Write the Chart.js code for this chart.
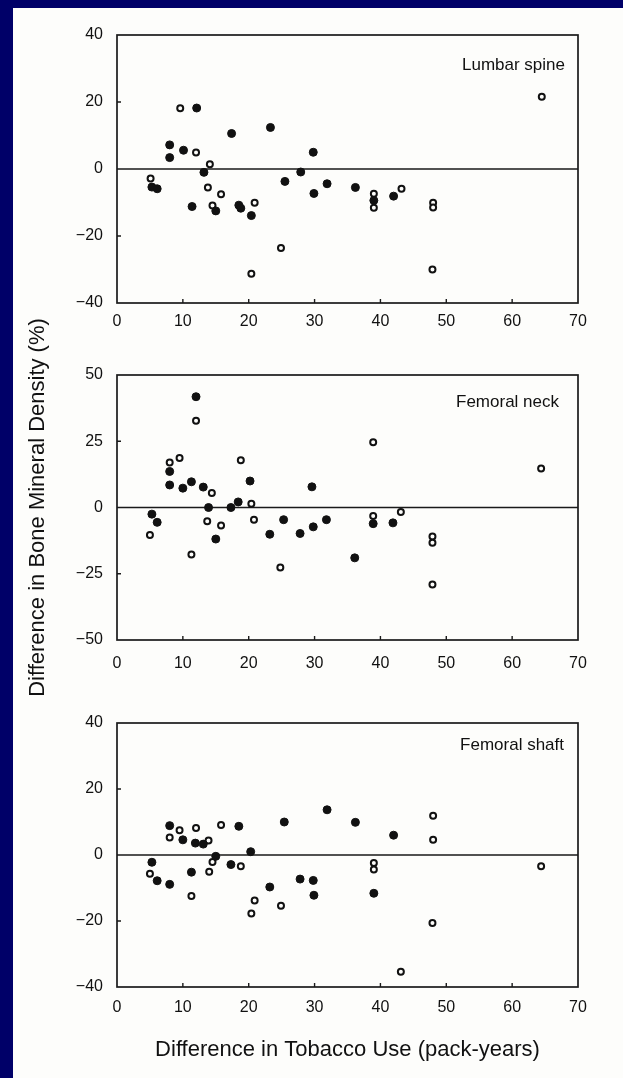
<!DOCTYPE html>
<html lang="en">
<head>
<meta charset="UTF-8">
<title>Bone Mineral Density vs Tobacco Use</title>
<script src="https://cdn.jsdelivr.net/npm/chart.js@4.4.0/dist/chart.umd.min.js"></script>
<style>
  html, body { margin: 0; padding: 0; background: #000068; }
  #sheet { position: absolute; left: 13px; top: 8px; width: 610px; height: 1070px; background: #fdfdfb; }
  canvas { position: absolute; left: 0; }
</style>
</head>
<body>
<div id="sheet"></div>
<canvas id="lumbar" width="623" height="332" style="top:8px"></canvas>
<canvas id="neck" width="623" height="440" style="top:290px"></canvas>
<canvas id="shaft" width="623" height="398" style="top:680px"></canvas>

<script>
// x = difference in pack-years, y = difference in BMD (%)
const xTickValues = [0, 10, 20, 30, 40, 50, 60, 70];
const yTicksLumbar = [-40, -20, 0, 20, 40];
const yTicksNeck = [-50, -25, 0, 25, 50];
const yTicksShaft = [-40, -20, 0, 20, 40];

const lumbarFilledX = [5.3, 6.1, 8.0, 8.0, 10.1, 11.4, 12.1, 13.2, 15.0, 17.4, 18.5, 18.8, 20.4, 23.3, 25.5, 27.9, 29.8, 29.9, 31.9, 36.2, 39.0, 42.0];
const lumbarFilledY = [-5.4, -5.9, 7.2, 3.4, 5.6, -11.2, 18.2, -1.0, -12.5, 10.6, -10.8, -11.7, -13.9, 12.4, -3.7, -0.9, 5.0, -7.3, -4.4, -5.5, -9.4, -8.1];
const lumbarOpenX = [5.1, 9.6, 12.0, 13.8, 14.1, 14.5, 15.8, 20.4, 20.9, 24.9, 39.0, 39.0, 43.2, 47.9, 48.0, 48.0, 64.5];
const lumbarOpenY = [-2.8, 18.1, 4.9, -5.5, 1.4, -10.9, -7.5, -31.3, -10.1, -23.6, -7.4, -11.6, -5.9, -30.0, -10.1, -11.5, 21.6];

const neckFilledX = [5.3, 6.1, 8.0, 8.0, 10.0, 11.3, 12.0, 13.1, 13.9, 15.0, 17.3, 18.4, 20.2, 23.2, 25.3, 27.8, 29.6, 29.8, 31.8, 36.1, 38.9, 41.9];
const neckFilledY = [-2.5, -5.6, 13.6, 8.5, 7.3, 9.7, 41.8, 7.7, 0.0, -11.9, 0.0, 2.1, 10.0, -10.1, -4.6, -9.8, 7.8, -7.3, -4.6, -19.0, -6.1, -5.8];
const neckOpenX = [5.0, 8.0, 9.5, 11.3, 12.0, 13.7, 14.4, 15.8, 18.8, 20.4, 20.8, 24.8, 38.9, 38.9, 43.1, 47.9, 47.9, 47.9, 64.4];
const neckOpenY = [-10.4, 17.0, 18.7, -17.7, 32.7, -5.2, 5.5, -6.8, 17.8, 1.4, -4.6, -22.6, 24.6, -3.2, -1.7, -10.9, -13.3, -29.1, 14.7];

const shaftFilledX = [5.3, 6.1, 8.0, 8.0, 10.0, 11.3, 11.9, 13.1, 15.0, 17.3, 18.5, 20.3, 23.2, 25.4, 27.8, 29.8, 29.9, 31.9, 36.2, 39.0, 42.0];
const shaftFilledY = [-2.2, -7.8, 8.9, -8.9, 4.6, -5.2, 3.6, 3.3, -0.4, -2.9, 8.7, 1.0, -9.7, 10.0, -7.3, -7.7, -12.2, 13.7, 9.9, -11.6, 6.0];
const shaftOpenX = [5.0, 8.0, 9.5, 11.3, 12.0, 13.9, 14.0, 14.5, 15.8, 18.8, 20.4, 20.9, 24.9, 39.0, 39.0, 43.1, 47.9, 48.0, 48.0, 64.4];
const shaftOpenY = [-5.7, 5.3, 7.5, -12.4, 8.2, 4.4, -5.1, -2.1, 9.1, -3.4, -17.7, -13.8, -15.4, -2.4, -4.4, -35.4, -20.6, 11.9, 4.6, -3.4];

const FONT = '"Liberation Sans", Arial, Helvetica, sans-serif';
const INK = '#111';
Chart.defaults.font.family = FONT;
Chart.defaults.color = INK;

function pts(xs, ys) {
  return xs.map((x, i) => ({ x: x, y: ys[i] }));
}

function minus(v) {
  return v < 0 ? '\u2212' + Math.abs(v) : String(v);
}

// frame, zero line, inward ticks and the panel name
const framePlugin = {
  id: 'frame',
  beforeDatasetsDraw(chart, args, opts) {
    const { ctx, chartArea: a, scales: { x, y } } = chart;
    ctx.save();
    ctx.strokeStyle = '#1a1a1a';
    ctx.lineWidth = 1.7;
    ctx.strokeRect(a.left, a.top, a.right - a.left, a.bottom - a.top);
    ctx.lineWidth = 1.4;
    const y0 = y.getPixelForValue(0);
    ctx.beginPath();
    ctx.moveTo(a.left, y0);
    ctx.lineTo(a.right, y0);
    x.ticks.forEach(t => {
      if (t.value > x.min && t.value < x.max) {
        const px = x.getPixelForValue(t.value);
        ctx.moveTo(px, a.bottom);
        ctx.lineTo(px, a.bottom - 4);
      }
    });
    y.ticks.forEach(t => {
      if (t.value > y.min && t.value < y.max && t.value !== 0) {
        const py = y.getPixelForValue(t.value);
        ctx.moveTo(a.left, py);
        ctx.lineTo(a.left + 4, py);
      }
    });
    ctx.stroke();
    ctx.restore();
  },
  afterDraw(chart, args, opts) {
    const { ctx, chartArea: a } = chart;
    ctx.save();
    ctx.font = '17px ' + FONT;
    ctx.fillStyle = INK;
    ctx.textAlign = 'right';
    ctx.textBaseline = 'middle';
    ctx.fillText(opts.label, a.right - opts.dx, a.top + opts.dy);
    ctx.restore();
  }
};

function makePanel(id, p) {
  const ctx = document.getElementById(id).getContext('2d');
  return new Chart(ctx, {
    type: 'scatter',
    data: {
      datasets: [
        {
          label: 'filled',
          data: pts(p.filledX, p.filledY),
          pointRadius: 4,
          borderWidth: 1,
          backgroundColor: INK,
          borderColor: INK
        },
        {
          label: 'open',
          data: pts(p.openX, p.openY),
          pointRadius: 3,
          borderWidth: 2,
          backgroundColor: '#fdfdfb',
          borderColor: INK
        }
      ]
    },
    options: {
      responsive: false,
      animation: false,
      layout: { padding: { left: 0, right: 45, top: p.padTop, bottom: 0 } },
      plugins: {
        legend: { display: false },
        tooltip: { enabled: false },
        frame: { label: p.label, dx: p.labelDx, dy: p.labelDy }
      },
      scales: {
        x: {
          type: 'linear',
          min: 0,
          max: 70,
          afterBuildTicks: s => { s.ticks = xTickValues.map(v => ({ value: v })); },
          afterFit: s => { s.height = p.xHeight; },
          grid: { display: false, drawTicks: false },
          border: { display: false },
          ticks: { font: { size: 16 }, padding: p.xTickPad, maxRotation: 0, autoSkip: false },
          title: {
            display: !!p.xTitle,
            text: p.xTitle || '',
            font: { size: 22 },
            padding: { top: 0, bottom: 15 }
          }
        },
        y: {
          type: 'linear',
          min: p.yTicks[0],
          max: p.yTicks[p.yTicks.length - 1],
          afterBuildTicks: s => { s.ticks = p.yTicks.map(v => ({ value: v })); },
          afterFit: s => { s.width = 117; },
          grid: { display: false, drawTicks: false },
          border: { display: false },
          ticks: { font: { size: 16 }, padding: 14, callback: v => minus(v) },
          title: {
            display: !!p.yTitle,
            text: p.yTitle || '',
            font: { size: 22 },
            padding: { top: 25, bottom: 0 }
          }
        }
      }
    },
    plugins: [framePlugin]
  });
}

makePanel('lumbar', {
  filledX: lumbarFilledX, filledY: lumbarFilledY,
  openX: lumbarOpenX, openY: lumbarOpenY,
  yTicks: yTicksLumbar, label: 'Lumbar spine',
  padTop: 27, xHeight: 37, xTickPad: 9, labelDx: 13, labelDy: 30
});

makePanel('neck', {
  filledX: neckFilledX, filledY: neckFilledY,
  openX: neckOpenX, openY: neckOpenY,
  yTicks: yTicksNeck, label: 'Femoral neck',
  padTop: 85, xHeight: 90, xTickPad: 14, labelDx: 19, labelDy: 27,
  yTitle: 'Difference in Bone Mineral Density (%)'
});

makePanel('shaft', {
  filledX: shaftFilledX, filledY: shaftFilledY,
  openX: shaftOpenX, openY: shaftOpenY,
  yTicks: yTicksShaft, label: 'Femoral shaft',
  padTop: 43, xHeight: 91, xTickPad: 11, labelDx: 14, labelDy: 22,
  xTitle: 'Difference in Tobacco Use (pack-years)'
});
</script>
</body>
</html>
